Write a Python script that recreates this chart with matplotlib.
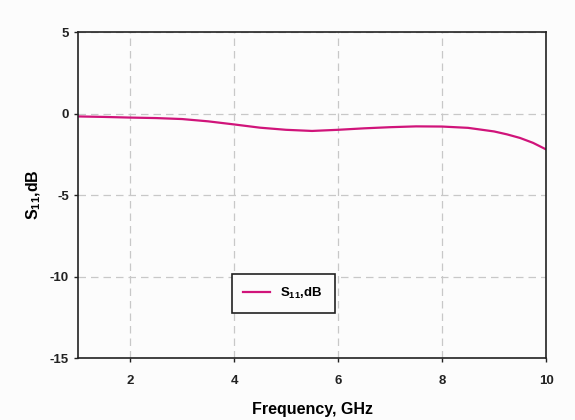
import matplotlib
matplotlib.use("Agg")
import matplotlib.pyplot as plt

# Дані
freq_ghz = [1.0, 1.5, 2.0, 2.5, 3.0, 3.5, 4.0, 4.5, 5.0, 5.5, 6.0, 6.5, 7.0, 7.5, 8.0, 8.5, 9.0, 9.25, 9.5, 9.75, 10.0]
s11_db = [-0.18, -0.21, -0.25, -0.28, -0.34, -0.48, -0.67, -0.87, -1.0, -1.07, -1.0, -0.91, -0.84, -0.79, -0.8, -0.88, -1.1, -1.28, -1.5, -1.8, -2.2]
x_ticks = [2, 4, 6, 8, 10]
y_ticks = [-15, -10, -5, 0, 5]

plt.rcParams['font.family'] = ['Liberation Sans', 'DejaVu Sans']
plt.rcParams['font.weight'] = 'bold'
plt.rcParams['axes.unicode_minus'] = False
plt.rcParams['mathtext.fontset'] = 'custom'
plt.rcParams['mathtext.rm'] = 'Liberation Sans:bold'
plt.rcParams['mathtext.bf'] = 'Liberation Sans:bold'
plt.rcParams['mathtext.default'] = 'bf'

fig = plt.figure(figsize=(5.75, 4.2), dpi=100, facecolor='#fcfcfc')
ax = fig.add_axes([0.1357, 0.1476, 0.8139, 0.7762])
ax.set_facecolor('#fcfcfc')

ax.plot(freq_ghz, s11_db, color='#d0147a', linewidth=1.6, label=r"S$_{11}$,dB")

ax.set_xlim(1, 10)
ax.set_ylim(-15, 5)
ax.set_xticks(x_ticks)
ax.set_yticks(y_ticks)
ax.grid(True, color='#c8c8c8', linestyle=(0, (6, 4)), linewidth=0.9)
ax.tick_params(direction='out', length=3, width=1, labelsize=9.5, colors='#222222')
ax.tick_params(axis='x', pad=9)
for sp in ax.spines.values():
    sp.set_linewidth(1.2)
    sp.set_color('#222222')

ax.set_xlabel("Frequency, GHz", fontsize=11.5, fontweight='bold', labelpad=11)
ax.set_ylabel(r"S$_{11}$,dB", fontsize=11.5, fontweight='bold', labelpad=5)

leg = ax.legend(loc='center', bbox_to_anchor=(0.438, 0.199), fontsize=9.5, fancybox=False,
                framealpha=1, edgecolor='#222222', handlelength=2.0, borderpad=0.9)
leg.get_frame().set_linewidth(1.2)
leg.get_frame().set_facecolor('#fcfcfc')

plt.savefig("out.png", dpi=100, facecolor=fig.get_facecolor())
